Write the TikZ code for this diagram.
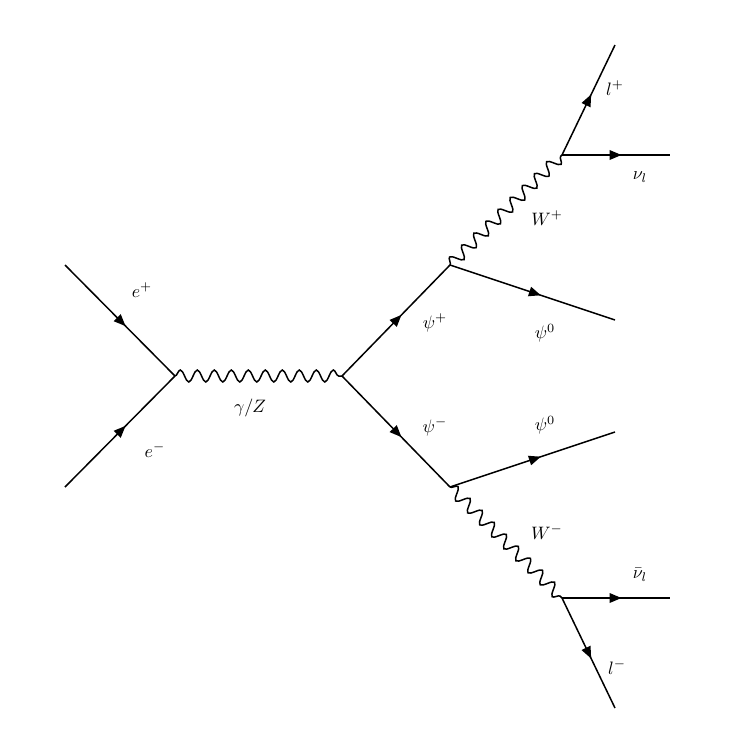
\documentclass[tikz,border=0pt]{standalone}
\usepackage{amsmath}
\usetikzlibrary{arrows,decorations.pathmorphing,decorations.markings}

\begin{document}
\begin{tikzpicture}[x=1pt,y=-1pt,line width=1.5pt]

    \tikzstyle{fermion}=[postaction={decorate},decoration={markings,mark=at position 0.55 with {\arrow[scale=1.1]{triangle 45}}}]
    \tikzstyle{boson}=[decorate,decoration={snake,segment length=17pt,amplitude=6pt}]
    \tikzstyle{lbl}=[inner sep=1pt,scale=1.8]

    \useasboundingbox (0,0) rectangle (741,756);

    % external and internal points
    \coordinate (ep) at (65,265);
    \coordinate (em) at (65,487);
    \coordinate (v1) at (175,376);
    \coordinate (v2) at (342,376);
    \coordinate (v3) at (450,265);
    \coordinate (v4) at (450,487);
    \coordinate (v5) at (562,155);
    \coordinate (v6) at (562,598);
    \coordinate (lp) at (615,45);
    \coordinate (nu) at (670,155);
    \coordinate (chiu) at (615,320);
    \coordinate (chid) at (615,432);
    \coordinate (nub) at (670,598);
    \coordinate (lm) at (615,708);

    \draw[fermion] (ep) -- (v1);
    \draw[fermion] (em) -- (v1);
    \draw[boson] (v1) -- (v2);
    \draw[fermion] (v2) -- (v3);
    \draw[fermion] (v2) -- (v4);
    \draw[boson] (v3) -- (v5);
    \draw[boson] (v4) -- (v6);
    \draw[fermion] (v3) -- (chiu);
    \draw[fermion] (v4) -- (chid);
    \draw[fermion] (v5) -- (lp);
    \draw[fermion] (v5) -- (nu);
    \draw[fermion] (v6) -- (nub);
    \draw[fermion] (v6) -- (lm);

    % labels
    \node[lbl] (tep) at (142,290) {$e^+$};
    \node[lbl] (tem) at (155,450) {$e^-$};
    \node[lbl] (tgz) at (250,408) {$\gamma/Z$};
    \node[lbl] (tpp) at (435,323) {$\psi^+$};
    \node[lbl] (tpm) at (435,427) {$\psi^-$};
    \node[lbl] (tcu) at (545,333) {$\psi^0$};
    \node[lbl] (tcd) at (545,425) {$\psi^0$};
    \node[lbl] (twp) at (547,218) {$W^+$};
    \node[lbl] (twm) at (547,532) {$W^-$};
    \node[lbl] (tlp) at (615,88) {$l^+$};
    \node[lbl] (tnu) at (640,177) {$\nu_l$};
    \node[lbl] (tnb) at (640,575) {$\bar\nu_l$};
    \node[lbl] (tlm) at (617,667) {$l^-$};
\end{tikzpicture}
\end{document}
